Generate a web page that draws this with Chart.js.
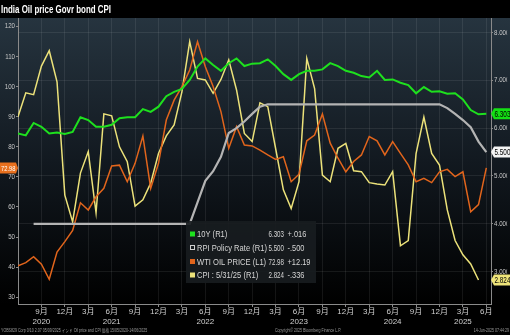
<!DOCTYPE html>
<html><head><meta charset="utf-8">
<script src="https://cdn.jsdelivr.net/npm/chart.js@4.4.1/dist/chart.umd.min.js"></script>
<style>html,body{margin:0;padding:0;background:#000;overflow:hidden}canvas{display:block}</style>
</head><body>
<canvas id="c" width="510" height="335"></canvas>
<script>
// ---- categories (monthly, Jun 2020 .. Jun 2025) ----
const months = ['2020-06','2020-07','2020-08','2020-09','2020-10','2020-11','2020-12',
'2021-01','2021-02','2021-03','2021-04','2021-05','2021-06','2021-07','2021-08','2021-09','2021-10','2021-11','2021-12',
'2022-01','2022-02','2022-03','2022-04','2022-05','2022-06','2022-07','2022-08','2022-09','2022-10','2022-11','2022-12',
'2023-01','2023-02','2023-03','2023-04','2023-05','2023-06','2023-07','2023-08','2023-09','2023-10','2023-11','2023-12',
'2024-01','2024-02','2024-03','2024-04','2024-05','2024-06','2024-07','2024-08','2024-09','2024-10','2024-11','2024-12',
'2025-01','2025-02','2025-03','2025-04','2025-05','2025-06'];

// ---- series (R1 = right axis, L1 = left axis) ----
const tenY = [5.89,5.85,6.11,6.03,5.89,5.91,5.88,
5.92,6.23,6.17,6.03,6.03,6.07,6.21,6.23,6.23,6.40,6.34,6.45,
6.67,6.76,6.82,7.01,7.29,7.46,7.32,7.20,7.36,7.46,7.30,7.35,
7.36,7.44,7.30,7.13,7.01,7.13,7.20,7.20,7.23,7.36,7.30,7.20,
7.16,7.09,7.06,7.20,7.01,7.02,6.95,6.90,6.73,6.86,6.76,6.77,
6.72,6.73,6.60,6.38,6.29,6.303];

const policyRate = [null,null,4.00,4.00,4.00,4.00,4.00,
4.00,4.00,4.00,4.00,4.00,4.00,4.00,4.00,4.00,4.00,4.00,4.00,
4.00,4.00,4.00,4.00,4.45,4.90,5.10,5.40,5.90,6.00,6.14,6.30,
6.45,6.50,6.50,6.50,6.50,6.50,6.50,6.50,6.50,6.50,6.50,6.50,
6.50,6.50,6.50,6.50,6.50,6.50,6.50,6.50,6.50,6.50,6.50,6.50,
6.42,6.30,6.17,6.02,5.72,5.50];

const wti = [40.5,41.5,43.5,41.0,36.0,45.0,48.5,
52.2,61.4,59.0,63.4,66.2,73.6,73.9,68.4,74.5,83.6,66.2,74.5,
88.9,95.5,100.0,105.5,114.9,106.6,100.0,91.7,79.5,86.7,80.6,80.3,
78.9,77.3,75.8,76.7,68.4,70.9,82.0,83.9,90.9,81.2,76.2,71.7,
75.1,77.3,83.4,82.0,77.3,81.7,77.8,74.0,68.4,69.5,68.1,71.7,
72.5,70.1,71.7,58.4,60.79,72.98];

const cpi = [6.24,6.74,6.70,7.30,7.62,6.97,4.60,
4.04,5.06,5.51,4.23,6.30,6.26,5.61,5.30,4.37,4.50,4.85,5.47,
5.84,6.07,6.76,7.81,7.04,7.01,6.73,7.02,7.43,6.80,5.89,5.72,
6.53,6.45,5.58,4.71,4.32,4.88,7.46,6.83,5.02,4.88,5.58,5.68,
5.11,5.09,4.86,4.83,4.81,5.09,3.54,3.65,5.47,6.23,5.47,5.23,
4.29,3.65,3.35,3.16,2.824,null];

// ---- tick labels ----
const xTickIdx = [3,6,9,12,15,18,21,24,27,30,33,36,39,42,45,48,51,54,57,60];
const xTickMonths = ['9月','12月','3月','6月','9月','12月','3月','6月','9月','12月','3月','6月','9月','12月','3月','6月','9月','12月','3月','6月'];
const xYearIdx = [3,12,24,36,48,57];
const xYearLabels = ['2020','2021','2022','2023','2024','2025'];
const leftTicks = [30,40,50,60,70,80,90,100,110,120];
const rightTicks = [3,4,5,6,7,8];

// ---- legend text ----
const legendNames = ['10Y (R1)','RPI Policy Rate (R1)','WTI OIL PRICE (L1)','CPI : 5/31/25 (R1)'];
const legendValues = ['6.303','5.500','72.98','2.824'];
const legendChanges = ['+.016','-.500','+12.19','-.336'];

const COLORS = {tenY:'#1ee01e', rate:'#b4b4b4', wti:'#e2651c', cpi:'#ece27a'};
const FAM = '"Liberation Sans", Arial, "Noto Sans CJK JP", sans-serif';
const NARROW = 0.8;
Chart.defaults.font.family = FAM;

// condensed text: regular face squeezed horizontally
function ctext(ctx, text, x, y, font, align, sx){
  ctx.save();
  ctx.font = font + ' ' + FAM;
  ctx.translate(x, y);
  ctx.scale(sx || NARROW, 1);
  ctx.textAlign = align || 'left';
  ctx.textBaseline = 'middle';
  ctx.fillText(text, 0, 0);
  ctx.restore();
}
function fitScale(ctx, text, font, target){
  ctx.save(); ctx.font = font + ' ' + FAM;
  const w = ctx.measureText(text).width; ctx.restore();
  return target / w;
}

const toXY = arr => arr.map((v,i)=>({x:i,y:v}));

// squeeze the y-axis tick labels the library draws
const narrowAxisPlugin = {
  id:'narrowAxis',
  afterLayout(chart){
    ['yL','yR'].forEach(id => {
      const s = chart.scales[id];
      if (s._narrowed) return;
      const orig = s.drawLabels.bind(s);
      s.drawLabels = function(area){
        const ctx = this.ctx;
        const px = this.position === 'left' ? this.right - 3 : this.left + 3;
        ctx.save();
        ctx.translate(px, 0); ctx.scale(0.82, 1); ctx.translate(-px, 0);
        orig(area);
        ctx.restore();
      };
      s._narrowed = true;
    });
  }
};

const bgPlugin = {
  id:'bg',
  beforeDraw(chart){
    const ctx = chart.ctx, a = chart.chartArea;
    ctx.save();
    ctx.fillStyle = '#000';
    ctx.fillRect(0,0,chart.width,chart.height);
    const g = ctx.createLinearGradient(0,a.top,0,a.bottom);
    g.addColorStop(0,'#26343f');
    g.addColorStop(0.5,'#121920');
    g.addColorStop(1,'#000000');
    ctx.fillStyle = g;
    ctx.fillRect(0,a.top,chart.width,a.bottom-a.top);
    const title = 'India Oil price Govr bond CPI';
    ctx.fillStyle = '#ffffff';
    ctext(ctx, title, 1, 10, 'bold 11px', 'left', fitScale(ctx, title, 'bold 11px', 110));
    ctx.fillStyle = '#9a9a9a';
    ctext(ctx, 'YOBS829 Corp 0/10 2.07 05/09/2025 インド Oil price and CPI 価格 15/05/2020-14/06/2025', 1, 331, '4.5px');
    ctext(ctx, 'Copyright© 2025 Bloomberg Finance L.P.', 275, 331, '4.5px');
    ctext(ctx, '14-Jun-2025 07:44:29', 509, 331, '4.5px', 'right');
    ctx.restore();
  }
};

function tagRight(ctx, x, y, text, bg, fg){
  ctx.fillStyle = bg;
  ctx.beginPath();
  ctx.moveTo(x-2,y);
  ctx.lineTo(x+1,y-5.5);
  ctx.lineTo(510,y-5.5);
  ctx.lineTo(510,y+5.5);
  ctx.lineTo(x+1,y+5.5);
  ctx.closePath();
  ctx.fill();
  ctx.fillStyle = fg;
  ctext(ctx, text, x+1.5, y+0.5, '8.5px', 'left', 0.75);
}
function tagLeft(ctx, x, y, text, bg, fg){
  ctx.fillStyle = bg;
  ctx.beginPath();
  ctx.moveTo(0,y-5.5);
  ctx.lineTo(x-1,y-5.5);
  ctx.lineTo(x+1,y);
  ctx.lineTo(x-1,y+5.5);
  ctx.lineTo(0,y+5.5);
  ctx.closePath();
  ctx.fill();
  ctx.fillStyle = fg;
  ctext(ctx, text, x-1.5, y+0.5, '8px', 'right', 0.72);
}
const lastVal = arr => { for(let i=arr.length-1;i>=0;i--) if(arr[i]!=null) return arr[i]; return null; };

const overlayPlugin = {
  id:'overlay',
  afterDraw(chart){
    const ctx = chart.ctx, yR = chart.scales.yR, yL = chart.scales.yL;
    ctx.save();
    ctx.fillStyle = 'rgba(24,28,32,0.92)';
    ctx.fillRect(186,221,130,62);
    const rowY = [234,247.5,261.5,275];
    const mk = [COLORS.tenY,null,COLORS.wti,COLORS.cpi];
    const lsx = fitScale(ctx, legendNames[1], '9.5px', 70);
    const vsx = fitScale(ctx, legendValues[0], '9.5px', 15.5);
    const csx = fitScale(ctx, legendChanges[2], '9.5px', 23);
    for(let k=0;k<4;k++){
      const y = rowY[k];
      if(mk[k]){ ctx.fillStyle = mk[k]; ctx.fillRect(190,y-2.5,5,5); }
      else { ctx.strokeStyle = '#cfcfcf'; ctx.lineWidth = 1; ctx.strokeRect(190.5,y-2,4,4); }
      ctx.fillStyle = '#d6d6d6';
      ctext(ctx, legendNames[k], 197, y+0.5, '9.5px', 'left', lsx);
      ctext(ctx, legendValues[k], 284, y+0.5, '9.5px', 'right', vsx);
      ctext(ctx, legendChanges[k], 287.5, y+0.5, '9.5px', 'left', csx);
    }
    tagRight(ctx, 493, yR.getPixelForValue(lastVal(tenY)), lastVal(tenY).toFixed(3), '#14e014', '#000');
    tagRight(ctx, 493, yR.getPixelForValue(lastVal(policyRate)), lastVal(policyRate).toFixed(3), '#f4f4f4', '#000');
    tagRight(ctx, 493, yR.getPixelForValue(lastVal(cpi)), lastVal(cpi).toFixed(3), '#eee47a', '#000');
    tagLeft(ctx, 17, yL.getPixelForValue(lastVal(wti)), lastVal(wti).toFixed(2), '#e8701e', '#fff');
    ctx.restore();
  }
};

new Chart(document.getElementById('c'), {
  type:'line',
  data:{
    datasets:[
      {label:'10Y (R1)', data:toXY(tenY), yAxisID:'yR', borderColor:COLORS.tenY, borderWidth:2},
      {label:'RPI Policy Rate (R1)', data:toXY(policyRate), yAxisID:'yR', borderColor:COLORS.rate, borderWidth:2.2},
      {label:'WTI OIL PRICE (L1)', data:toXY(wti), yAxisID:'yL', borderColor:COLORS.wti, borderWidth:1.5},
      {label:'CPI (R1)', data:toXY(cpi), yAxisID:'yR', borderColor:COLORS.cpi, borderWidth:1.5}
    ]
  },
  options:{
    responsive:false,
    animation:false,
    devicePixelRatio:1,
    layout:{padding:{top:18,left:0,right:0,bottom:0}},
    elements:{point:{radius:0}, line:{tension:0}},
    plugins:{legend:{display:false}, tooltip:{enabled:false}, title:{display:false}},
    scales:{
      x:{
        type:'linear', position:'bottom', min:0, max:60.6, offset:false,
        afterFit(s){ s.height = 31; },
        afterBuildTicks(s){ s.ticks = xTickIdx.map(v=>({value:v})); },
        grid:{color:'rgba(255,255,255,0.08)', tickColor:'#8a8a8a', tickLength:3, drawTicks:true},
        border:{color:'#8a8a8a'},
        ticks:{
          color:'#cfcfcf', font:{size:8}, padding:0, maxRotation:0, autoSkip:false,
          callback(v){ const k = xTickIdx.indexOf(v); const y = xYearIdx.indexOf(v);
            return y>=0 ? [xTickMonths[k], xYearLabels[y]] : xTickMonths[k]; }
        }
      },
      yL:{
        type:'linear', position:'left', min:27.77, max:122.79,
        afterFit(s){ s.width = 18; },
        afterBuildTicks(s){ s.ticks = leftTicks.map(v=>({value:v})); },
        grid:{drawOnChartArea:false, color:'#8a8a8a', tickLength:2},
        border:{color:'#8a8a8a'},
        ticks:{color:'#c8c8c8', font:{size:7.5}, padding:1}
      },
      yR:{
        type:'linear', position:'right', min:2.322, max:8.305,
        afterFit(s){ s.width = 19; },
        afterBuildTicks(s){ s.ticks = rightTicks.map(v=>({value:v})); },
        grid:{color:'rgba(255,255,255,0.08)', tickColor:'#8a8a8a', tickLength:2},
        border:{color:'#8a8a8a'},
        ticks:{color:'#c8c8c8', font:{size:7.5}, padding:1, callback:v=>Number(v).toFixed(3)}
      }
    }
  },
  plugins:[bgPlugin, narrowAxisPlugin, overlayPlugin]
});
</script>
</body></html>
